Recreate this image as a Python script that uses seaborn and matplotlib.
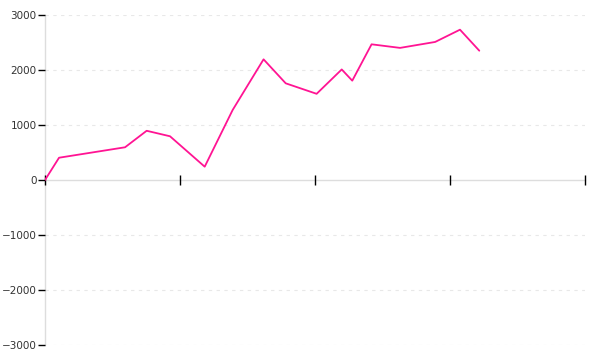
import matplotlib
matplotlib.use("Agg")
import matplotlib.pyplot as plt
import seaborn as sns
import pandas as pd

# data
x_vals = [0, 10.4, 59.3, 75.3, 92.6, 118.3, 139, 161.9, 178.3, 201.2, 219.8, 227.6, 241.9, 263, 289, 307.4, 321.7]
y_vals = [0, 405, 595, 895, 795, 242, 1273, 2194, 1758, 1567, 2010, 1806, 2467, 2402, 2510, 2733, 2351]
x_ticks = [0, 100, 200, 300, 400]
y_ticks = [-3000, -2000, -1000, 0, 1000, 2000, 3000]

df = pd.DataFrame({"x": x_vals, "y": y_vals})

sns.set_theme(style="white")
plt.rcParams['font.family'] = ['DejaVu Sans']

fig = plt.figure(figsize=(6, 3.6), dpi=100)
ax = fig.add_axes([45/600, 1-345/360, 540/600, 330/360])

sns.lineplot(data=df, x="x", y="y", ax=ax, color="#ff1493", linewidth=1.3)

ax.set_xlim(0, 400)
ax.set_ylim(-3000, 3000)
ax.set_xticks(x_ticks)
ax.set_xticklabels([])
ax.set_yticks(y_ticks)
ax.set_yticklabels([str(v).replace('-', '\u2212') for v in y_ticks])
ax.set_xlabel("")
ax.set_ylabel("")

for s in ["top", "right"]:
    ax.spines[s].set_visible(False)
ax.spines["bottom"].set_position(("data", 0))
for s in ["bottom", "left"]:
    ax.spines[s].set_color("#dddddd")
    ax.spines[s].set_linewidth(1)
    ax.spines[s].set_zorder(0.5)

ax.tick_params(axis="x", direction="inout", length=7, width=1, color="black", bottom=True)
ax.tick_params(axis="y", direction="out", length=5, width=1, color="black", left=True,
               labelsize=7.5, labelcolor="#333333", pad=1)

for v in y_ticks:
    if v != 0:
        ax.axhline(v, color="#e8e8e8", linestyle=(0, (3, 4)), linewidth=0.8, zorder=0)

fig.savefig("out.png", dpi=100)
